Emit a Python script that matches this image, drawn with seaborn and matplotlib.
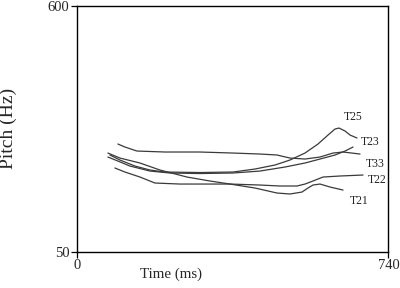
import matplotlib
matplotlib.use("Agg")
import matplotlib.pyplot as plt
import seaborn as sns
import pandas as pd

# ---- data ----
t21_ms = [73, 101.6, 149.2, 196.7, 261, 315.7, 363.3, 422.7, 475.1, 506, 534.6, 548.8, 560.7, 577.4, 601.2, 632.1]
t21_hz = [270.9, 259.7, 248.6, 232.9, 217.2, 208.3, 201.5, 192.6, 181.4, 179.2, 183.6, 192.6, 199.3, 201.5, 194.8, 188.1]

t22_ms = [89.7, 113.5, 149.2, 184.8, 244.3, 363.3, 434.6, 482.2, 522.7, 541.7, 560.7, 584.5, 625, 679.7]
t22_hz = [237.4, 228.4, 217.2, 203.8, 201.5, 201.5, 199.3, 197.1, 197.1, 201.5, 208.3, 217.2, 219.5, 221.7]

t25_ms = [77.8, 101.6, 137.3, 173, 208.6, 291.9, 370.4, 422.7, 470.3, 506, 541.7, 572.6, 596.4, 613.1, 622.6, 636.9, 648.8, 665.4]
t25_hz = [266.5, 255.3, 241.8, 232.9, 228.4, 227.3, 228.4, 235.1, 244.1, 255.3, 270.9, 291.1, 311.2, 324.7, 326.9, 320.2, 311.2, 304.5]

t23_ms = [73, 96.8, 125.4, 173, 220.5, 291.9, 370.4, 434.6, 494.1, 541.7, 577.4, 613.1, 636.9, 655.9]
t23_hz = [262, 253, 241.8, 230.6, 226.2, 225, 226.2, 230.6, 239.6, 248.6, 257.5, 266.5, 275.4, 284.4]

t33_ms = [96.8, 113.5, 142, 208.6, 291.9, 370.4, 434.6, 475.1, 506, 541.7, 577.4, 608.3, 632.1, 672.5]
t33_hz = [291.1, 284.4, 275.4, 273.2, 273.2, 270.9, 268.7, 266.5, 259.7, 257.5, 262, 270.9, 273.2, 268.7]

tone_names = ["T21", "T22", "T25", "T23", "T33"]
label_ms = [670.5, 713.3, 655.9, 696.6, 708.5]
label_hz = [163.5, 210.5, 351.5, 295.6, 246.3]

x_ticks = [0, 740]
y_ticks = [50, 600]

series = {
    "T21": (t21_ms, t21_hz),
    "T22": (t22_ms, t22_hz),
    "T25": (t25_ms, t25_hz),
    "T23": (t23_ms, t23_hz),
    "T33": (t33_ms, t33_hz),
}
rows = []
for name, (xs, ys) in series.items():
    for x, y in zip(xs, ys):
        rows.append({"tone": name, "ms": x, "hz": y})
df = pd.DataFrame(rows)

sns.set_theme(style="white")
plt.rcParams["font.family"] = ["Liberation Serif", "DejaVu Serif"]

fig = plt.figure(figsize=(4.0, 2.88), dpi=100)
ax = fig.add_axes([0.193, 0.126, 0.778, 0.853])

sns.lineplot(data=df, x="ms", y="hz", hue="tone", units="tone", estimator=None,
             palette={n: "#3a3a3a" for n in tone_names}, linewidth=0.9,
             legend=False, ax=ax, sort=False)

for name, lx, ly in zip(tone_names, label_ms, label_hz):
    ax.text(lx, ly, name, fontsize=8.4, ha="center", va="center", color="#222222")

ax.set_xlim(0, 740)
ax.set_ylim(50, 600)
ax.set_xticks(x_ticks)
ax.set_yticks(y_ticks)
ax.set_xticklabels([str(v) for v in x_ticks], fontsize=10.5)
ax.set_yticklabels([str(v) for v in y_ticks], fontsize=10.5)
ax.tick_params(direction="out", length=4, width=0.9, color="black", pad=1.5,
               bottom=True, left=True)

for s in ax.spines.values():
    s.set_visible(True)
    s.set_color("black")
    s.set_linewidth(1.0)

ax.set_xlabel("Time (ms)", fontsize=10.8)
ax.set_ylabel("Pitch (Hz)", fontsize=14)
ax.xaxis.set_label_coords(0.301, -0.065)
ax.yaxis.set_label_coords(-0.195, 0.5)

fig.savefig("out.png", dpi=100)
